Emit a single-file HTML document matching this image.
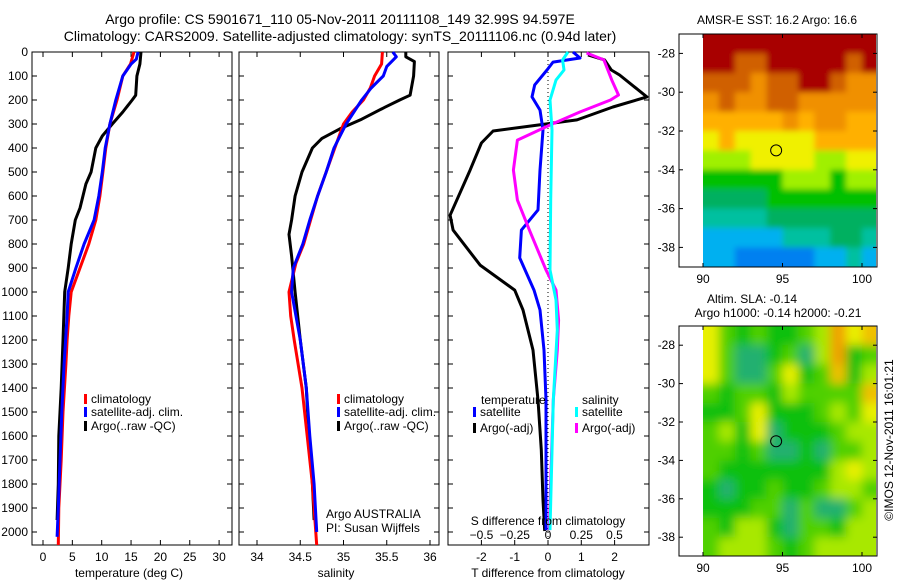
<!DOCTYPE html>
<html><head><meta charset="utf-8">
<style>
html,body{margin:0;padding:0;background:#fff;}
svg{display:block;font-family:"Liberation Sans",sans-serif;}
text{fill:#000;}
</style></head>
<body>
<svg id="chart" width="900" height="580" viewBox="0 0 900 580" xmlns="http://www.w3.org/2000/svg">
<defs>
<filter id="blurSST" x="-5%" y="-5%" width="110%" height="110%"><feGaussianBlur stdDeviation="3"/></filter>
<filter id="blurSLA" x="-5%" y="-5%" width="110%" height="110%"><feGaussianBlur stdDeviation="5"/></filter>
<clipPath id="clipSST"><rect x="703" y="34" width="173" height="233"/></clipPath>
<clipPath id="clipSLA"><rect x="703" y="326" width="173" height="230"/></clipPath>
</defs>
<text x="340" y="24" font-size="14" text-anchor="middle">Argo profile: CS 5901671_110 05-Nov-2011 20111108_149 32.99S 94.597E</text>
<text x="340" y="41" font-size="14" text-anchor="middle">Climatology: CARS2009. Satellite-adjusted climatology: synTS_20111106.nc (0.94d later)</text>
<text x="777" y="24" font-size="12" text-anchor="middle">AMSR-E SST: 16.2 Argo: 16.6</text>
<text x="752" y="303" font-size="12" text-anchor="middle">Altim. SLA: -0.14</text>
<text x="778" y="317" font-size="12" text-anchor="middle">Argo h1000: -0.14 h2000: -0.21</text>
<text x="0" y="0" font-size="12" text-anchor="middle" transform="translate(893,440) rotate(-90)">©IMOS 12-Nov-2011 16:01:21</text>
<g id="plots"></g>
</svg>
<script>
// ---------- data ----------
const depthTicks = [0,100,200,300,400,500,600,700,800,900,1000,1100,1200,1300,1400,1500,1600,1700,1800,1900,2000];
const tempTicks = [0,5,10,15,20,25,30];
const salTicks = [34,34.5,35,35.5,36];
const tdiffTicks = [-2,-1,0,1,2];
const sdiffTicks = [-0.5,-0.25,0,0.25,0.5];

const tClimDepth = [0,50,100,200,300,400,500,600,700,800,900,1000,1100,1200,1300,1500,1700,1900,2054];
const tClimVal   = [15.5,14.9,13.6,12.6,11.4,10.7,10.2,9.7,9.0,7.8,6.3,4.8,4.4,4.1,3.9,3.4,3.1,2.7,2.6];
const tSatDepth  = [0,30,50,100,200,300,400,500,600,700,800,900,1000,1100,1300,1500,1700,1900,2020];
const tSatVal    = [16.2,15.9,15.0,13.6,12.4,11.4,10.6,10.1,9.5,8.7,7.0,5.6,4.3,4.1,3.6,3.2,2.9,2.6,2.4];
const tArgoDepth = [0,50,100,180,200,250,300,350,400,500,550,650,700,800,900,1000,1200,1400,1600,1800,1950];
const tArgoVal   = [16.7,16.5,16.0,15.8,15.2,13.6,11.8,10.1,9.0,8.2,7.3,6.3,5.5,4.8,4.3,3.7,3.4,3.1,2.7,2.6,2.4];

const sClimDepth = [0,50,100,150,200,250,300,400,500,600,700,800,880,1000,1100,1200,1400,1600,1800,2054];
const sClimVal   = [35.45,35.44,35.36,35.31,35.23,35.1,35.0,34.9,34.8,34.7,34.62,34.54,34.45,34.37,34.39,34.43,34.52,34.58,34.64,34.69];
const sSatDepth  = [0,20,60,100,150,200,300,400,500,600,700,800,900,1000,1200,1400,1600,1800,2000];
const sSatVal    = [35.57,35.61,35.5,35.46,35.32,35.21,35.03,34.89,34.8,34.7,34.61,34.53,34.42,34.4,34.5,34.57,34.61,34.66,34.69];
const sArgoDepth = [0,20,40,100,180,200,230,280,320,360,400,500,600,700,760,850,1000,1200,1400,1600,1800,1950];
const sArgoVal   = [35.72,35.72,35.82,35.81,35.77,35.65,35.48,35.21,34.96,34.75,34.64,34.52,34.44,34.4,34.37,34.4,34.44,34.5,34.57,34.6,34.64,34.66];

const dTArgoDepth = [12,33,75,96,187,229,283,329,379,492,680,742,888,992,1075,1242,1450,1658,1867,1996];
const dTArgoVal   = [1.2,1.7,1.9,2.15,2.97,1.95,0.87,-1.65,-2.0,-2.34,-2.94,-2.85,-2.04,-1.0,-0.75,-0.45,-0.3,-0.2,-0.15,-0.1];
const dTSatDepth  = [0,25,42,75,137,187,242,325,492,658,742,858,992,1075,1242,1450,1992];
const dTSatVal    = [0.75,0.96,0.15,-0.03,-0.4,-0.48,-0.24,-0.15,-0.24,-0.3,-0.8,-0.85,-0.42,-0.24,-0.12,-0.06,-0.06];
const dSSatDepth  = [0,33,75,117,200,325,617,908,1033,1158,1450,1992];
const dSSatVal    = [0.15,0.11,0.12,0.06,0.015,0.03,0.02,0.015,0.06,0.07,0.04,0.015];
const dSArgoDepth = [4,33,117,179,200,250,304,367,492,617,742,908,992,1117,1242,1450,1783,1992];
const dSArgoVal   = [0.29,0.42,0.48,0.53,0.47,0.24,0.015,-0.23,-0.26,-0.23,-0.14,-0.015,0.06,0.08,0.07,0.04,0.02,0.01];

const mapLons = [90,91,92,93,94,95,96,97,98,99,100];
const mapLats = [-27,-28,-29,-30,-31,-32,-33,-34,-35,-36,-37,-38];
const sstGrid = [
 [10,10,10,10,10,10,10,10,10,10,10],
 [10,10,9,9,10,10,10,10,10,9,10],
 [9,9,9,8,9,9,10,10,9,8,8],
 [8,9,8,8,9,9,8,8,8,8,8],
 [7,7,7,7,7,8,7,8,8,7,7],
 [6,7,6,6,6,6,6,7,7,7,7],
 [5,5,5,6,6,6,6,5,5,6,6],
 [4,4,4,4,4,5,5,5,4,5,5],
 [3,3,3,3,4,4,4,4,4,4,4],
 [2,2,2,2,3,3,3,3,3,3,3],
 [1,1,1,1,1,2,2,2,3,3,2],
 [1,1,0,0,0,0,0,1,1,2,1]];
const slaGrid = [
 [4,2,1,2,1,1,2,3,6,4,5],
 [4,2,0,0,1,2,0,3,6,1,2],
 [4,2,0,0,2,4,1,2,5,1,3],
 [2,1,2,2,1,3,2,2,2,2,5],
 [1,1,2,4,1,1,1,2,3,2,4],
 [2,3,1,4,0,1,1,1,2,3,3],
 [2,2,1,2,0,0,1,0,2,2,3],
 [2,1,1,1,1,1,1,1,3,4,3],
 [1,0,1,1,2,1,1,2,3,3,2],
 [1,1,1,2,2,0,2,0,0,2,3],
 [2,1,3,3,1,0,2,2,1,3,3],
 [2,3,3,3,2,1,2,3,3,3,3]];
const argoLon = 94.6, argoLat = -33;
const mapLatTicks = [-28,-30,-32,-34,-36,-38];
const mapLonTicks = [90,95,100];

// ---------- drawing ----------
const NS = "http://www.w3.org/2000/svg";
const root = document.getElementById('plots');
function mk(tag, attrs, parent){ const e=document.createElementNS(NS,tag); for(const k in attrs) e.setAttribute(k,attrs[k]); (parent||root).appendChild(e); return e; }
function txt(s,x,y,size,anchor,name){ const t=mk('text',{x:x,y:y,'font-size':size,'text-anchor':anchor||'start'}); t.textContent=s;
 
 
 return t; }

const top0=52, bot0=545;
const yD = d => top0 + d*0.24;

function frame(x0,x1,name){
 const r=mk('rect',{x:x0,y:top0,width:x1-x0,height:bot0-top0,fill:'none',stroke:'#000','stroke-width':1});
 
 
 depthTicks.forEach(d=>{ const y=yD(d);
   mk('line',{x1:x0,x2:x0+5,y1:y,y2:y,stroke:'#000'}); mk('line',{x1:x1,x2:x1-5,y1:y,y2:y,stroke:'#000'}); });
}
function xticks(ticks,sx,labels,name){
 ticks.forEach(v=>{ const x=sx(v);
  mk('line',{x1:x,x2:x,y1:bot0,y2:bot0-5,stroke:'#000'}); mk('line',{x1:x,x2:x,y1:top0,y2:top0+5,stroke:'#000'});
  if(labels) txt(String(v),x,561,12,'middle',name); });
}
function line(depths,vals,sx,color,name){
 const pts=depths.map((d,i)=>sx(vals[i]).toFixed(1)+','+yD(d).toFixed(1)).join(' ');
 const p=mk('polyline',{points:pts,fill:'none',stroke:color,'stroke-width':3,'stroke-linejoin':'round'});
 
 
}
function legendItem(x,y,color,label,name){
 mk('rect',{x:x,y:y-9,width:3,height:10,fill:color});
 txt(label,x+7,y,12,'start',name);
}

// Panel 1 temperature
const sxT = v => 43 + v*5.87;
frame(32,232,'temperature-panel');
depthTicks.forEach(d=>txt(String(d),28,yD(d)+4,12,'end','depth-tick-label'));
xticks(tempTicks,sxT,true,'temperature-tick-label');
line(tArgoDepth,tArgoVal,sxT,'#000','temperature-argo-line');
line(tClimDepth,tClimVal,sxT,'#f00','temperature-climatology-line');
line(tSatDepth,tSatVal,sxT,'#00f','temperature-satellite-line');
txt('temperature (deg C)',129,577,12,'middle','temperature-axis-title');
legendItem(84,403,'#f00','climatology','legend-climatology');
legendItem(84,416,'#00f','satellite-adj. clim.','legend-satellite-adj');
legendItem(84,430,'#000','Argo(..raw -QC)','legend-argo');

// Panel 2 salinity
const sxS = v => 257 + (v-34)*86.5;
frame(239,439,'salinity-panel');
xticks(salTicks,sxS,true,'salinity-tick-label');
line(sArgoDepth,sArgoVal,sxS,'#000','salinity-argo-line');
line(sClimDepth,sClimVal,sxS,'#f00','salinity-climatology-line');
line(sSatDepth,sSatVal,sxS,'#00f','salinity-satellite-line');
txt('salinity',336,577,12,'middle','salinity-axis-title');
legendItem(337,403,'#f00','climatology','legend-climatology-2');
legendItem(337,416,'#00f','satellite-adj. clim.','legend-satellite-adj-2');
legendItem(337,430,'#000','Argo(..raw -QC)','legend-argo-2');
txt('Argo AUSTRALIA',326,518,12,'start','institution-label');
txt('PI: Susan Wijffels',326,532,12,'start','pi-label');

// Panel 3 differences
const sxDT = v => 548 + v*33.3;
const sxDS = v => 548 + v*133;
frame(448,649,'difference-panel');
xticks(tdiffTicks,sxDT,true,'tdiff-tick-label');
mk('line',{x1:548,x2:548,y1:top0,y2:bot0,stroke:'#000','stroke-dasharray':'1,3'});
line(dTArgoDepth,dTArgoVal,sxDT,'#000','tdiff-argo-line');
line(dTSatDepth,dTSatVal,sxDT,'#00f','tdiff-satellite-line');
line(dSArgoDepth,dSArgoVal,sxDS,'#f0f','sdiff-argo-line');
line(dSSatDepth,dSSatVal,sxDS,'#0ff','sdiff-satellite-line');
sdiffTicks.forEach(v=>txt(String(v).replace('-','−'),sxDS(v),539,12,'middle','sdiff-tick-label'));
txt('S difference from climatology',548,525,12,'middle','sdiff-axis-title');
txt('T difference from climatology',548,577,12,'middle','tdiff-axis-title');
txt('temperature',481,404,12,'start','legend-temperature-header');
legendItem(473,416,'#00f','satellite','legend-t-satellite');
legendItem(473,432,'#000','Argo(-adj)','legend-t-argo');
txt('salinity',582,404,12,'start','legend-salinity-header');
legendItem(575,416,'#0ff','satellite','legend-s-satellite');
legendItem(575,432,'#f0f','Argo(-adj)','legend-s-argo');

// Maps
const sstColors=['#0080f0','#00b0f0','#00c0a0','#00b060','#00c000','#a0f000','#f0f000','#ffb000','#f09000','#d06000','#a80000'];
const slaColors=['#20b070','#10c010','#50d000','#a8e800','#e8f000','#f0c000','#f0a000'];
function drawMap(grid,colors,fy0,fy1,latTop,pxPerDeg,name,clip,filt){
 const lonX = l => 703 + (l-90)*15.9;
 const latY = l => fy0 + (latTop - l)*pxPerDeg;
 const outer=mk('g',{'clip-path':'url(#'+clip+')'});
 const g=mk('g',{filter:'url(#'+filt+')'},outer);
 
 
 grid.forEach((row,i)=>row.forEach((v,j)=>{
   let x=lonX(mapLons[j]), y=latY(mapLats[i]);
   let w=lonX(mapLons[j]+1)-x, h=latY(mapLats[i]-1)-y;
   // extend edge cells so blur does not fade at borders
   if(j===0){x-=10;w+=10;} if(j===row.length-1){w+=20;}
   if(i===0){y-=10;h+=10;} if(i===grid.length-1){h+=20;}
   const c=mk('rect',{x:x,y:y,width:w+0.5,height:h+0.5,fill:colors[v]},g);
   
   
 }));
 mk('rect',{x:679,y:fy0,width:198,height:fy1-fy0,fill:'none',stroke:'#000'});
 mapLatTicks.forEach(l=>{ const y=latY(l);
   mk('line',{x1:679,x2:683,y1:y,y2:y,stroke:'#000'}); mk('line',{x1:877,x2:873,y1:y,y2:y,stroke:'#000'});
   txt(String(l),675,y+4,12,'end','map-lat-label'); });
 mapLonTicks.forEach(l=>{ const x=lonX(l);
   mk('line',{x1:x,x2:x,y1:fy1,y2:fy1-4,stroke:'#000'}); mk('line',{x1:x,x2:x,y1:fy0,y2:fy0+4,stroke:'#000'});
   txt(String(l),x,fy1+16,12,'middle','map-lon-label'); });
 const c=mk('circle',{cx:lonX(argoLon),cy:latY(argoLat),r:5.5,fill:'none',stroke:'#000','stroke-width':1});
 
 
}
drawMap(sstGrid,sstColors,34,267,-27,19.4,'sst-map','clipSST','blurSST');
drawMap(slaGrid,slaColors,326,556,-27,19.2,'sla-map','clipSLA','blurSLA');
</script>
</body></html>
